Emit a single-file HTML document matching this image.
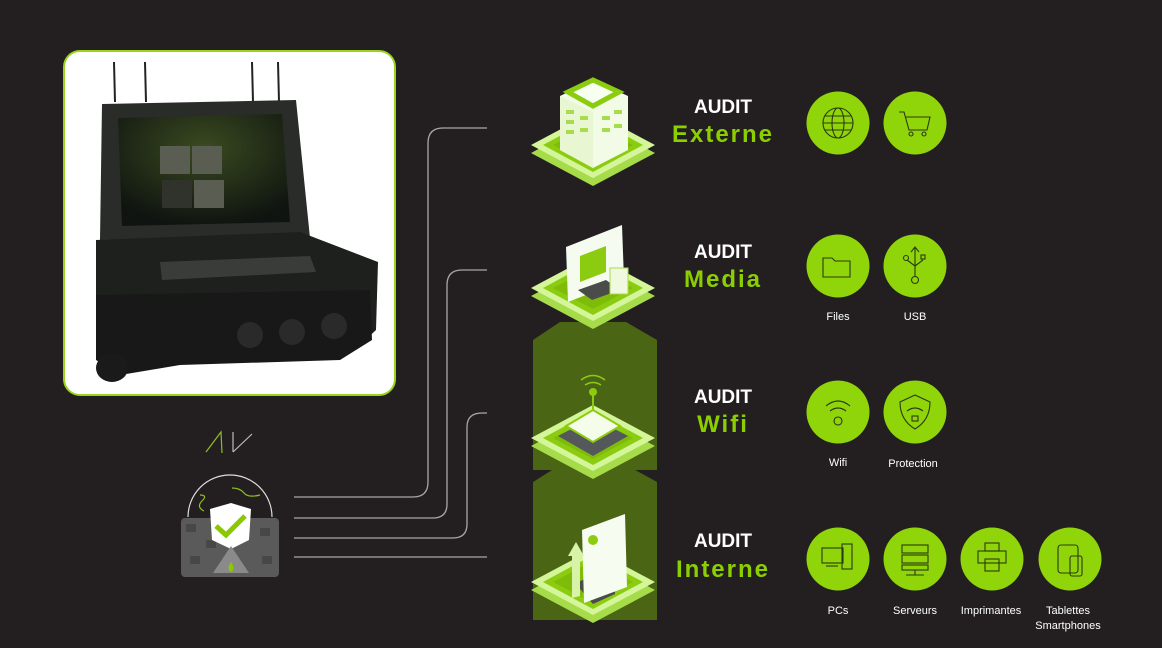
<!DOCTYPE html>
<html><head><meta charset="utf-8"><style>
html,body{margin:0;padding:0;background:#231f20;}
svg{display:block}
text{font-family:"Liberation Sans",sans-serif;}
</style></head><body>
<svg width="1162" height="648" viewBox="0 0 1162 648" xmlns="http://www.w3.org/2000/svg">
<defs>
<g id="plat">
 <polygon points="-62,8 0,-25 62,8 0,41" fill="#a6dc4a"/>
 <polygon points="-62,0 0,-33 62,0 0,33" fill="#d4f59a"/>
 <polygon points="-50,0 0,-27 50,0 0,27" fill="#8ccc10"/>
 <polygon points="-40,0 0,-21 40,0 0,21" fill="#7fbc0a"/>
</g>
<radialGradient id="scr" cx="0.5" cy="0.3" r="0.7"><stop offset="0" stop-color="#3a4a20"/><stop offset="1" stop-color="#0f1410"/></radialGradient>
</defs>
<rect width="1162" height="648" fill="#231f20"/>
<polygon points="533,340 560,322 626,322 657,340 657,470 533,470" fill="#4a6514"/>
<polygon points="533,482 560,465 626,465 657,482 657,620 533,620" fill="#4a6514"/>
<g fill="none" stroke="#a8a8a8" stroke-width="1.3">
<path d="M294,497 H413 Q428,497 428,482 V143 Q428,128 443,128 H487"/>
<path d="M294,518 H433 Q447,518 447,504 V285 Q447,270 462,270 H487"/>
<path d="M294,538 H453 Q467,538 467,524 V427 Q467,413 482,413 H487"/>
<path d="M294,557 H487"/>
</g>
<rect x="64" y="51" width="331" height="344" rx="16" fill="#ffffff" stroke="#9ad21e" stroke-width="2"/>
<g>
 <line x1="114" y1="62" x2="115" y2="102" stroke="#222" stroke-width="2"/>
 <line x1="145" y1="62" x2="146" y2="102" stroke="#222" stroke-width="2"/>
 <line x1="252" y1="62" x2="253" y2="102" stroke="#222" stroke-width="2"/>
 <line x1="278" y1="62" x2="279" y2="102" stroke="#222" stroke-width="2"/>
 <polygon points="102,104 296,100 310,238 100,240" fill="#2a2c2a"/>
 <polygon points="118,118 282,114 290,222 122,226" fill="url(#scr)"/>
 <rect x="160" y="146" width="30" height="28" fill="#5a5e52"/>
 <rect x="192" y="146" width="30" height="28" fill="#5a5e52"/>
 <rect x="162" y="180" width="30" height="28" fill="#2f332c"/>
 <rect x="194" y="180" width="30" height="28" fill="#5a5e52"/>
 <polygon points="96,240 300,232 378,262 376,330 360,345 110,352 96,330" fill="#1e201e"/>
 <polygon points="160,262 310,256 316,272 162,280" fill="#3a3c3a"/>
 <polygon points="96,295 370,290 372,340 340,360 180,365 120,375 96,360" fill="#171817"/>
 <ellipse cx="112" cy="368" rx="16" ry="14" fill="#1a1a1a"/>
 <circle cx="250" cy="335" r="13" fill="#2a2a2a"/><circle cx="292" cy="332" r="13" fill="#2a2a2a"/><circle cx="334" cy="326" r="13" fill="#2a2a2a"/>
</g>
<path d="M206,452 L221,432 L222,453" fill="none" stroke="#8fbe20" stroke-width="1.2"/>
<path d="M233,452 L252,434" fill="none" stroke="#bbb" stroke-width="1.2"/>
<path d="M233,432 L233,452" fill="none" stroke="#bbb" stroke-width="1.2"/>
<path d="M188,517 A42,42 0 0 1 272,517" fill="none" stroke="#ddd" stroke-width="1.2"/>
<path d="M200,495 q8,0 2,6 q-6,6 2,10 M232,488 q8,0 12,5 q4,5 16,2" fill="none" stroke="#8fbe20" stroke-width="1.2"/>
<rect x="181" y="518" width="98" height="59" rx="4" fill="#5a5a5a"/>
<g fill="#474747"><rect x="186" y="524" width="10" height="8"/><rect x="206" y="540" width="10" height="8"/><rect x="260" y="528" width="10" height="8"/><rect x="190" y="556" width="10" height="8"/><rect x="262" y="556" width="10" height="8"/></g>
<path d="M210,509 L231,503 L251,509 L249,540 L231,549 L212,540 Z" fill="#fff"/>
<polygon points="213,573 231,546 249,573" fill="#8a8a8a"/>
<path d="M216,526 L226,535 L245,516" fill="none" stroke="#8cc800" stroke-width="5"/>
<path d="M231,562 q-5,7 0,10 q5,-3 0,-10z" fill="#8cc800"/>
<use href="#plat" x="593" y="145"/>
<polygon points="560,96 593,80 628,96 628,150 593,168 560,150" fill="#f2fbe6"/>
<polygon points="560,96 593,112 593,168 560,150" fill="#e8f6d2"/>
<polygon points="568,92 593,80 619,92 593,106" fill="#f6fff0" stroke="#8ccc10" stroke-width="5"/>
<g fill="#a8dc4a"><rect x="566" y="110" width="8" height="4"/><rect x="566" y="120" width="8" height="4"/><rect x="566" y="130" width="8" height="4"/><rect x="580" y="116" width="8" height="4"/><rect x="580" y="128" width="8" height="4"/><rect x="602" y="116" width="8" height="4"/><rect x="614" y="110" width="8" height="4"/><rect x="602" y="128" width="8" height="4"/><rect x="614" y="124" width="8" height="4"/></g>
<use href="#plat" x="593" y="288"/>
<polygon points="566,247 622,225 624,280 568,302" fill="#f5fbef"/>
<polygon points="580,256 606,246 606,272 580,282" fill="#8ccc10"/>
<polygon points="578,290 606,280 620,290 592,300" fill="#4a4c4a"/>
<rect x="610" y="268" width="18" height="26" fill="#f0f8e0" stroke="#a8dc4a"/>
<use href="#plat" x="593" y="438"/>
<polygon points="558,436 593,418 628,436 593,456" fill="#55585a"/>
<polygon points="566,426 593,410 620,426 593,442" fill="#f6fcea" stroke="#8ccc10" stroke-width="2"/>
<line x1="593" y1="394" x2="593" y2="410" stroke="#8ccc10" stroke-width="2"/>
<circle cx="593" cy="392" r="4" fill="#8ccc10"/>
<path d="M581,380 q12,-9 24,0 M585,385 q8,-5 16,0" fill="none" stroke="#8ccc10" stroke-width="1.5"/>
<use href="#plat" x="593" y="582"/>
<polygon points="575,583 615,568 615,594 593,604" fill="#4a4c4a"/>
<polygon points="582,530 625,514 627,587 584,603" fill="#f6fcef"/>
<polygon points="568,556 576,542 584,556 580,556 580,596 572,598 572,556" fill="#d8f2a8"/>
<circle cx="593" cy="540" r="5" fill="#8ccc10"/>
<g text-anchor="middle">
<text x="723" y="113" fill="#fff" font-size="19" font-weight="bold">AUDIT</text>
<text x="723" y="142" fill="#8ccf00" font-size="24" font-weight="bold" letter-spacing="2">Externe</text>
<text x="723" y="258" fill="#fff" font-size="19" font-weight="bold">AUDIT</text>
<text x="723" y="287" fill="#8ccf00" font-size="24" font-weight="bold" letter-spacing="2">Media</text>
<text x="723" y="403" fill="#fff" font-size="19" font-weight="bold">AUDIT</text>
<text x="723" y="432" fill="#8ccf00" font-size="24" font-weight="bold" letter-spacing="2">Wifi</text>
<text x="723" y="547" fill="#fff" font-size="19" font-weight="bold">AUDIT</text>
<text x="723" y="577" fill="#8ccf00" font-size="24" font-weight="bold" letter-spacing="2">Interne</text>
</g>
<g fill="#90d40a">
<circle cx="838" cy="123" r="31.5"/><circle cx="915" cy="123" r="31.5"/>
<circle cx="838" cy="266" r="31.5"/><circle cx="915" cy="266" r="31.5"/>
<circle cx="838" cy="412" r="31.5"/><circle cx="915" cy="412" r="31.5"/>
<circle cx="838" cy="559" r="31.5"/><circle cx="915" cy="559" r="31.5"/><circle cx="992" cy="559" r="31.5"/><circle cx="1070" cy="559" r="31.5"/>
</g>
<g fill="none" stroke="#2a3a10" stroke-width="1.1">
<circle cx="838" cy="123" r="15"/><ellipse cx="838" cy="123" rx="6" ry="15"/><line x1="823" y1="123" x2="853" y2="123"/><line x1="825" y1="116" x2="851" y2="116"/><line x1="825" y1="130" x2="851" y2="130"/>
<path d="M899,112 h5 l5,18 h18 l3,-13 h-24"/><circle cx="911" cy="134" r="2"/><circle cx="924" cy="134" r="2"/>
<path d="M823,258 h9 l3,3 h15 v16 h-27 z"/>
<path d="M915,248 v28 M911,252 l4,-5 4,5 M915,266 l-8,-6 M915,266 l8,-6"/><circle cx="915" cy="280" r="3.5"/><circle cx="906" cy="258" r="2.5"/><rect x="921" y="255" width="4" height="4"/>
<path d="M826,406 q12,-10 24,0 M830,411 q8,-6 16,0"/><circle cx="838" cy="421" r="4"/>
<path d="M900,402 l15,-7 15,7 q0,18 -15,27 q-15,-9 -15,-27z"/><path d="M907,411 q8,-6 16,0"/><rect x="912" y="416" width="6" height="5"/>
<rect x="822" y="548" width="21" height="15"/><rect x="842" y="544" width="10" height="25"/><line x1="826" y1="566" x2="838" y2="566"/>
<rect x="902" y="545" width="26" height="8"/><rect x="902" y="555" width="26" height="8"/><rect x="902" y="565" width="26" height="5"/><line x1="915" y1="570" x2="915" y2="575"/><line x1="906" y1="575" x2="924" y2="575"/>
<rect x="985" y="543" width="14" height="8"/><rect x="978" y="551" width="28" height="12"/><rect x="985" y="559" width="14" height="12"/>
<rect x="1058" y="545" width="20" height="28" rx="3"/><rect x="1070" y="556" width="12" height="20" rx="2"/>
</g>
<g fill="#fff" font-size="11" text-anchor="middle">
<text x="838" y="320">Files</text><text x="915" y="320">USB</text>
<text x="838" y="466">Wifi</text><text x="913" y="467">Protection</text>
<text x="838" y="614">PCs</text><text x="915" y="614">Serveurs</text><text x="991" y="614">Imprimantes</text><text x="1068" y="614">Tablettes</text><text x="1068" y="629">Smartphones</text>
</g>
</svg>
</body></html>
